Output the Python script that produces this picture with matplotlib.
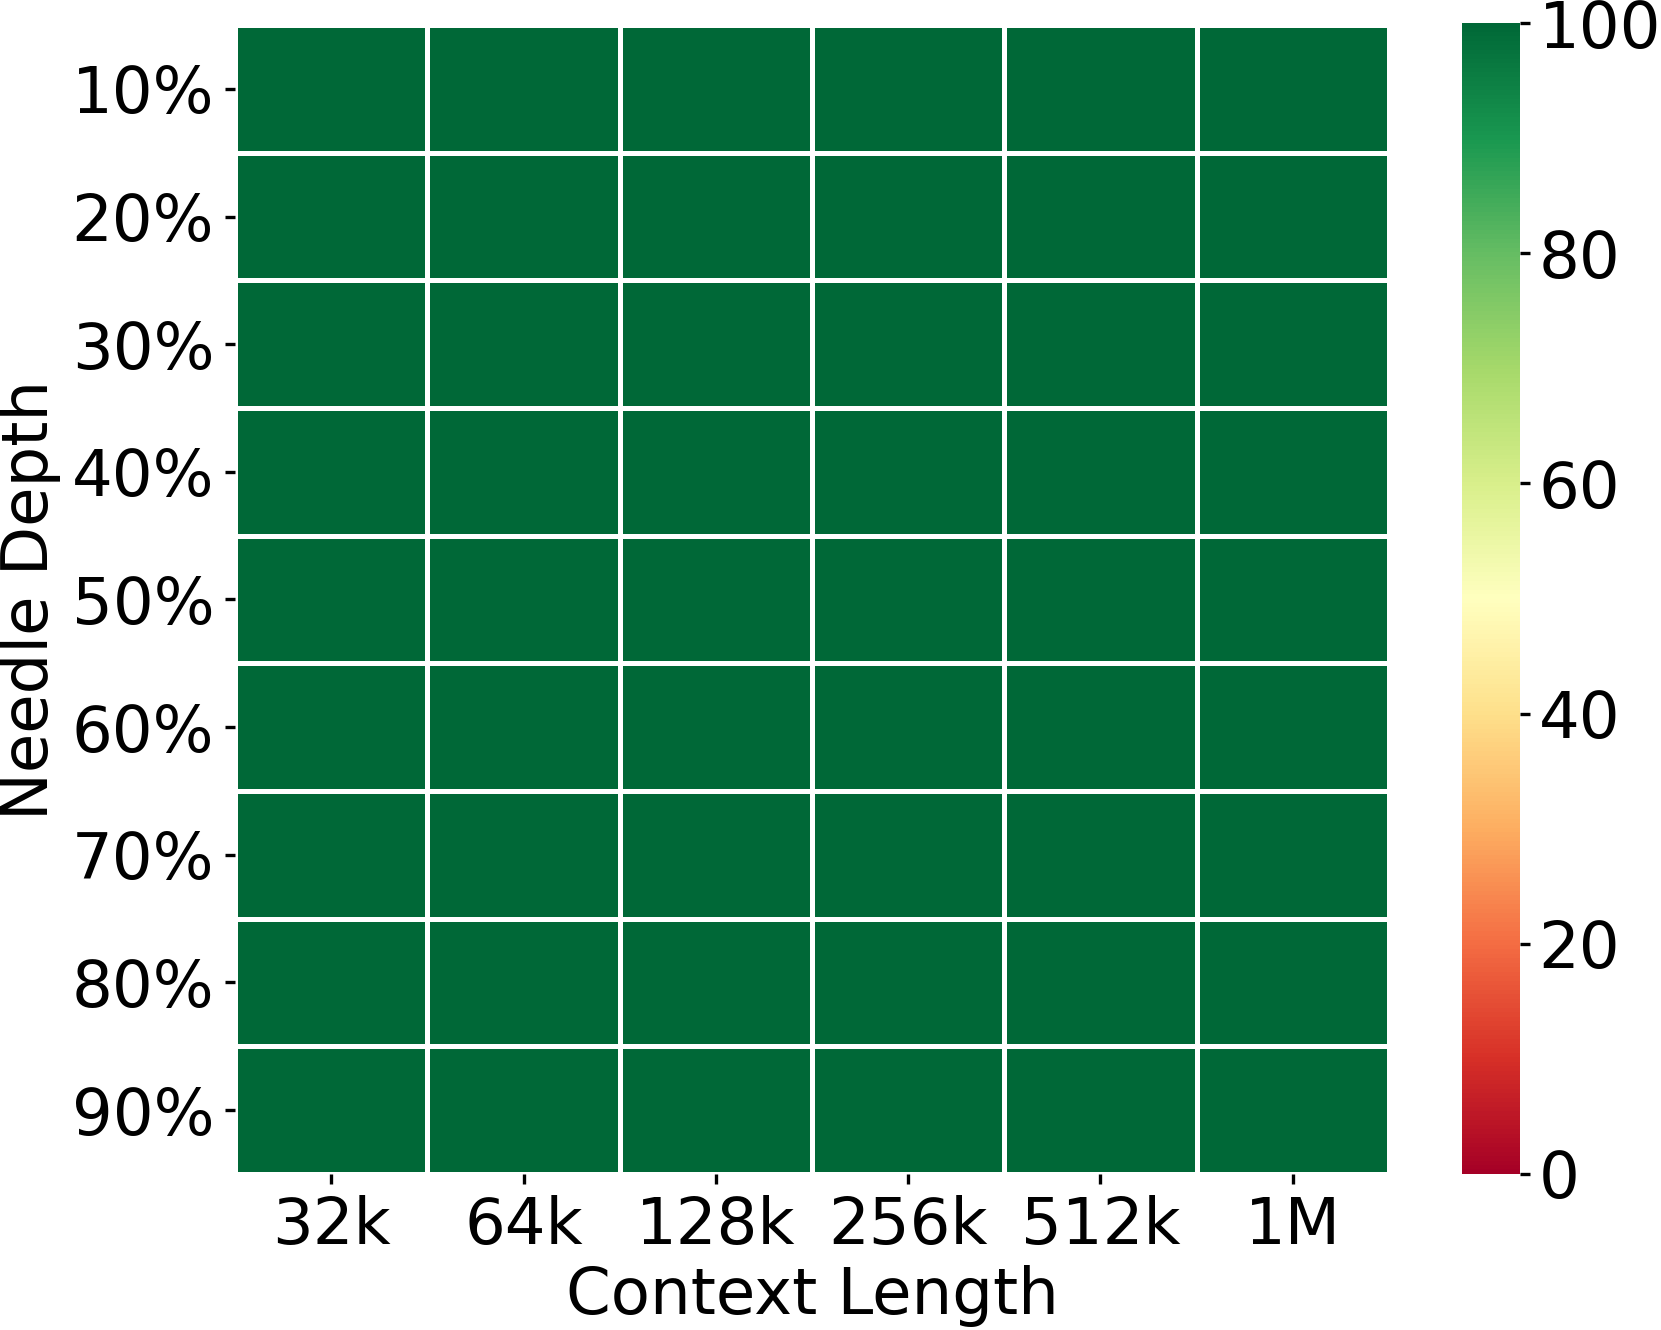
import numpy as np
import matplotlib
matplotlib.use('Agg')
from matplotlib import pyplot as plt

# data
context_labels = ['32k', '64k', '128k', '256k', '512k', '1M']
depth_labels = ['10%', '20%', '30%', '40%', '50%', '60%', '70%', '80%', '90%']
scores = [
    [100, 100, 100, 100, 100, 100],
    [100, 100, 100, 100, 100, 100],
    [100, 100, 100, 100, 100, 100],
    [100, 100, 100, 100, 100, 100],
    [100, 100, 100, 100, 100, 100],
    [100, 100, 100, 100, 100, 100],
    [100, 100, 100, 100, 100, 100],
    [100, 100, 100, 100, 100, 100],
    [100, 100, 100, 100, 100, 100],
]

plt.rcParams['font.family'] = ['DejaVu Sans']
plt.rcParams['font.size'] = 15.4

fig = plt.figure(figsize=(1661 / 300, 1330 / 300), dpi=300)
ax = fig.add_axes([0.1415, 0.1173, 0.6947, 0.8639])
cax = fig.add_axes([0.8802, 0.1173, 0.0349, 0.8654])

data = np.array(scores)
mesh = ax.pcolormesh(data, cmap='RdYlGn', vmin=0, vmax=100,
                     edgecolors='white', linewidth=1.1)
ax.set_xlim(0, data.shape[1])
ax.set_ylim(data.shape[0], 0)
for s in ax.spines.values():
    s.set_visible(False)

ax.set_xticks(np.arange(len(context_labels)) + 0.5)
ax.set_xticklabels(context_labels)
ax.set_yticks(np.arange(len(depth_labels)) + 0.5)
ax.set_yticklabels(depth_labels, rotation=0)
ax.tick_params(length=2.5, width=0.8, pad=2.5)
ax.set_xlabel('Context Length', labelpad=2)
ax.set_ylabel('Needle Depth', labelpad=2.5)

cbar = fig.colorbar(mesh, cax=cax)
cbar.set_ticks([0, 20, 40, 60, 80, 100])
cbar.outline.set_visible(False)
cbar.ax.tick_params(length=2.5, width=0.8, pad=2)

plt.savefig('out.png', dpi=300)
